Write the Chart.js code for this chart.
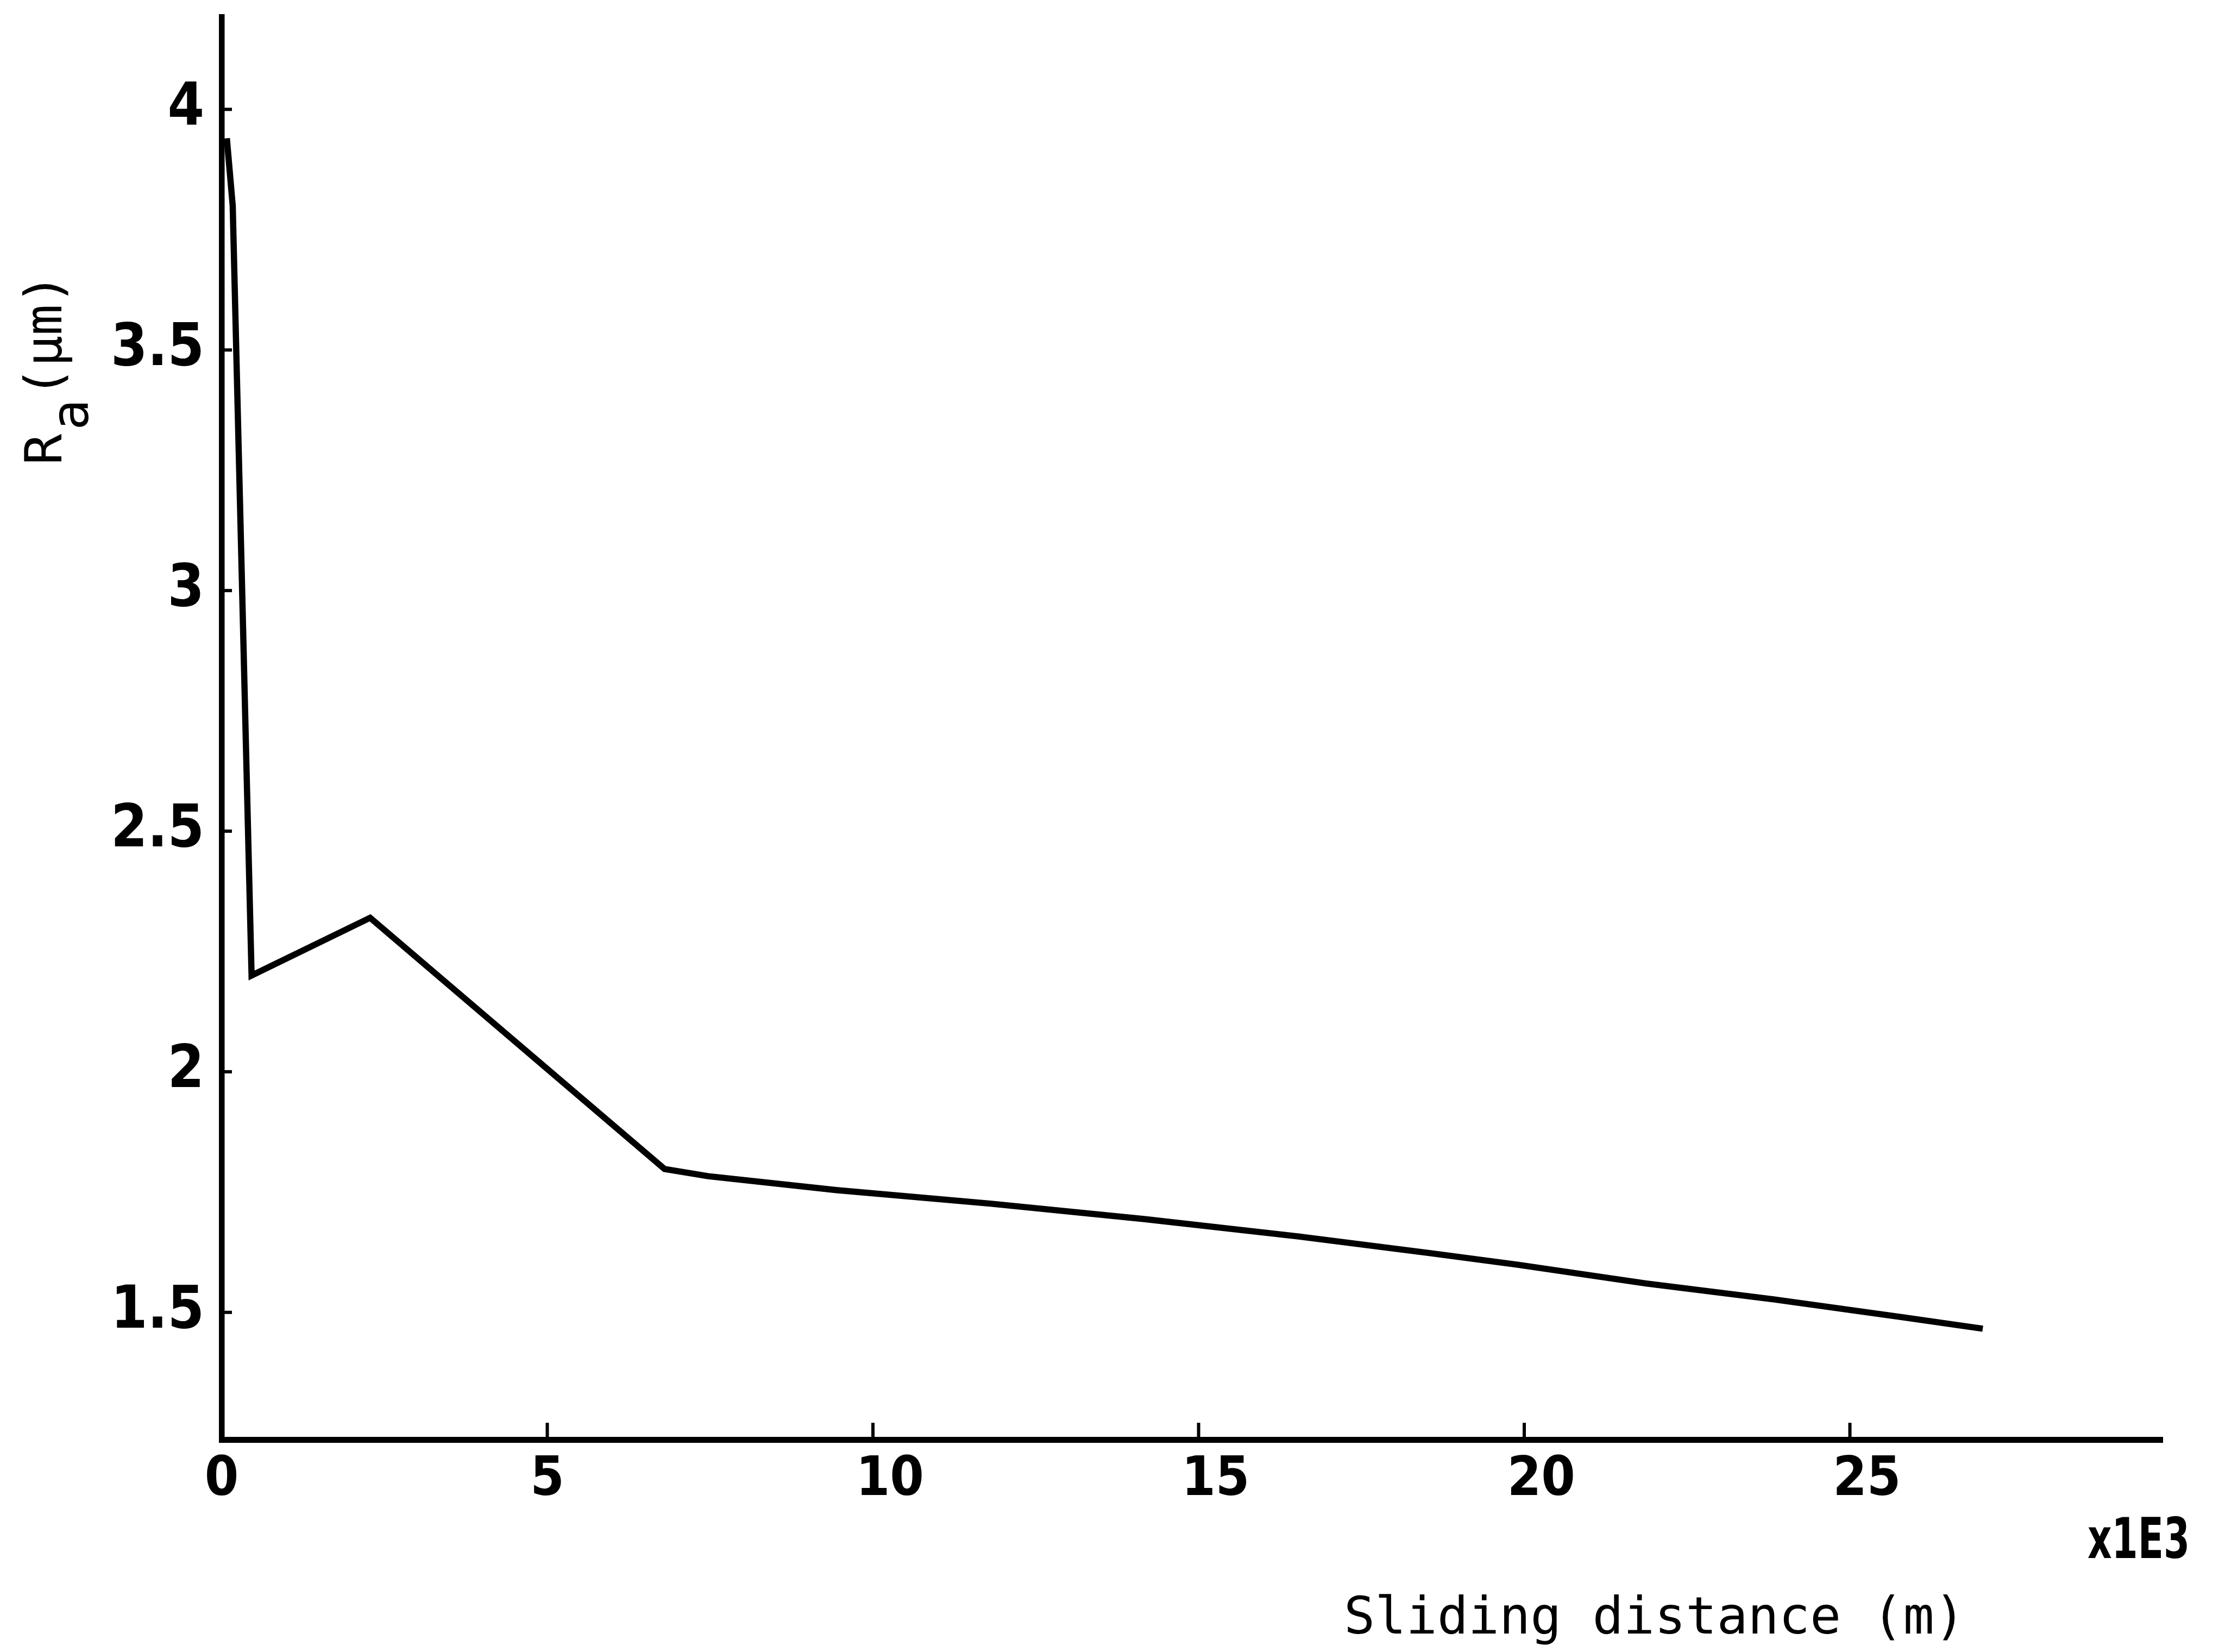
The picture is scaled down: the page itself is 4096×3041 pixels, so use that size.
<!DOCTYPE html>
<html>
<head>
<meta charset="utf-8">
<script src="https://cdn.jsdelivr.net/npm/chart.js@4.4.1/dist/chart.umd.min.js"></script>
<style>
html, body { margin: 0; padding: 0; background: #ffffff; }
canvas { display: block; }
</style>
</head>
<body>
<canvas id="chart" width="4096" height="3041"></canvas>
<script>
// ---- data (sliding distance in units of 1E3 m, Ra in µm) ----
const distance  = [0.08, 0.17, 0.46, 2.28, 6.80, 7.47, 9.44, 11.80, 14.16, 16.52, 18.56, 19.90, 21.87, 23.83, 25.80, 27.04];
const roughness = [3.94, 3.80, 2.20, 2.32, 1.798, 1.783, 1.754, 1.726, 1.694, 1.658, 1.623, 1.599, 1.560, 1.527, 1.490, 1.466];

const xTickValues = [0, 5, 10, 15, 20, 25];
const xTickLabels = ['0', '5', '10', '15', '20', '25'];
const yTickValues = [1.5, 2, 2.5, 3, 3.5, 4];
const yTickLabels = ['1.5', '2', '2.5', '3', '3.5', '4'];

const xAxisTitle = 'Sliding distance (m)';
const xAxisMultiplier = 'x1E3';
const yTitleMain = 'R';
const yTitleSub = 'a';
const yTitleUnit = '(μm)';

const TICK_FONT = '"Liberation Sans Narrow", "DejaVu Sans Condensed", sans-serif';
const TITLE_FONT = '"DejaVu Sans Mono", monospace';
const X_TICK_SIZE = 100;

const decorations = {
  id: 'decorations',
  beforeDraw(chart) {
    // typewriter style: first digit of each x label sits on its tick
    const xs = chart.scales.x;
    const items = xs.getLabelItems(chart.chartArea);
    const ctx = chart.ctx;
    ctx.save();
    ctx.font = 'bold ' + X_TICK_SIZE + 'px ' + TICK_FONT;
    items.forEach(it => {
      const s = String(it.label);
      if (s.length > 1 && !it._shifted) {
        const w = ctx.measureText(s).width;
        const w1 = ctx.measureText(s[0]).width;
        it.options.translation[0] += (w - w1) / 2;
        it._shifted = true;
      }
    });
    ctx.restore();
  },
  afterDraw(chart) {
    const { ctx, chartArea: a, scales: { x, y } } = chart;
    ctx.save();
    ctx.strokeStyle = '#000';
    ctx.lineCap = 'butt';
    ctx.lineWidth = 6;
    // inward tick marks
    x.ticks.forEach(t => {
      if (t.value === 0) return;
      const px = x.getPixelForValue(t.value);
      ctx.beginPath();
      ctx.moveTo(px, a.bottom);
      ctx.lineTo(px, a.bottom - 31);
      ctx.stroke();
    });
    y.ticks.forEach(t => {
      const py = y.getPixelForValue(t.value);
      ctx.beginPath();
      ctx.moveTo(a.left, py);
      ctx.lineTo(a.left + 19, py);
      ctx.stroke();
    });
    // axis texts
    ctx.fillStyle = '#000';
    ctx.textBaseline = 'alphabetic';
    ctx.textAlign = 'center';
    ctx.font = '95px ' + TITLE_FONT;
    ctx.fillText(xAxisTitle, 3046, 3007);
    // narrow typewriter multiplier
    ctx.save();
    ctx.font = 'bold 104px ' + TICK_FONT;
    const mw = ctx.measureText(xAxisMultiplier).width;
    const sx = Math.min(1, 188 / mw);
    ctx.translate(3937, 2868);
    ctx.scale(sx, 1);
    ctx.fillText(xAxisMultiplier, 0, 0);
    ctx.restore();
    // rotated y title with subscript
    ctx.translate(113, 856);
    ctx.rotate(-Math.PI / 2);
    ctx.textAlign = 'left';
    ctx.font = '95px ' + TITLE_FONT;
    ctx.fillText(yTitleMain, 0, 0);
    ctx.fillText(yTitleSub, 64, 49);
    ctx.fillText(yTitleUnit, 124, 0);
    ctx.restore();
  }
};

new Chart(document.getElementById('chart'), {
  type: 'line',
  data: {
    datasets: [{
      data: distance.map((d, i) => ({ x: d, y: roughness[i] })),
      borderColor: '#000',
      borderWidth: 11.5,
      pointRadius: 0,
      fill: false,
      tension: 0,
      clip: false
    }]
  },
  options: {
    responsive: false,
    animation: false,
    devicePixelRatio: 1,
    layout: { padding: { left: 0, top: 31, right: 115, bottom: 0 } },
    plugins: { legend: { display: false }, tooltip: { enabled: false }, title: { display: false } },
    scales: {
      x: {
        type: 'linear',
        min: 0,
        max: 29.8,
        afterBuildTicks: s => { s.ticks = xTickValues.map(v => ({ value: v })); },
        afterFit: s => { s.height = 391; s.paddingLeft = 0; s.paddingRight = 0; },
        grid: { display: true, drawOnChartArea: false, drawTicks: false, color: 'rgba(0,0,0,0)', lineWidth: 1 },
        border: { display: true, color: '#000', width: 11 },
        ticks: {
          autoSkip: false,
          maxRotation: 0,
          minRotation: 0,
          padding: 16,
          color: '#000',
          font: { family: TICK_FONT, size: X_TICK_SIZE, weight: 'bold' },
          callback: (v, i) => xTickLabels[i]
        }
      },
      y: {
        type: 'linear',
        min: 1.2356,
        max: 4.1923,
        afterBuildTicks: s => { s.ticks = yTickValues.map(v => ({ value: v })); },
        afterFit: s => { s.width = 408; s.paddingTop = 0; s.paddingBottom = 0; },
        grid: { display: true, drawOnChartArea: false, drawTicks: false, color: 'rgba(0,0,0,0)', lineWidth: 1 },
        border: { display: true, color: '#000', width: 10.5 },
        ticks: {
          autoSkip: false,
          padding: 32,
          color: '#000',
          font: { family: TICK_FONT, size: 108, weight: 'bold' },
          callback: (v, i) => yTickLabels[i]
        }
      }
    }
  },
  plugins: [decorations]
});
</script>
</body>
</html>
